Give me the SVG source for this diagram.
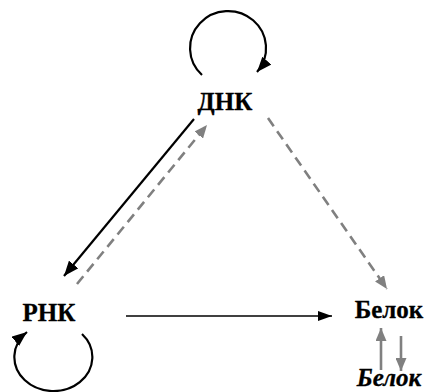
<svg xmlns="http://www.w3.org/2000/svg" width="426" height="392" viewBox="0 0 426 392">
  <defs>
    <marker id="headBlack" viewBox="0 0 15 12" refX="15" refY="6" markerWidth="15" markerHeight="12" markerUnits="userSpaceOnUse" orient="auto">
      <path d="M0,0 L15,6 L0,12 Z" fill="#000"/>
    </marker>
    <marker id="headThin" viewBox="0 0 14 10" refX="14" refY="5" markerWidth="14" markerHeight="10" markerUnits="userSpaceOnUse" orient="auto">
      <path d="M0,0 L14,5 L0,10 Z" fill="#000"/>
    </marker>
    <marker id="headGrey" viewBox="0 0 13 11" refX="13" refY="5.5" markerWidth="13" markerHeight="11" markerUnits="userSpaceOnUse" orient="auto">
      <path d="M0,0 L13,5.5 L0,11 Z" fill="#808080"/>
    </marker>
  </defs>
  <style>
    .label { font-family: 'Liberation Serif', serif; font-weight: 700; font-size: 25px; fill: #000; stroke: #000; stroke-width: 0.3; }
    .italic { font-style: italic; }
    .solid { fill: none; stroke: #000; stroke-width: 2.2; }
    .thin { fill: none; stroke: #000; stroke-width: 1.4; }
    .dash { fill: none; stroke: #808080; stroke-width: 2.6; stroke-dasharray: 10 6; }
    .grey { fill: none; stroke: #808080; stroke-width: 2.6; }
  </style>

  <g id="connectors">
    <!-- self loop over DNA -->
    <path class="solid" d="M202,75 A38,37 0 1 1 257,72" marker-end="url(#headBlack)"/>
    <!-- self loop under RNA -->
    <path class="solid" d="M82,334 A39,34 0 1 1 27,332" marker-end="url(#headBlack)"/>
    <!-- DNA to RNA -->
    <path class="solid" d="M194,119 L64,276" marker-end="url(#headBlack)"/>
    <!-- RNA back to DNA (dashed) -->
    <path class="dash" d="M77,284 L207,125" marker-end="url(#headGrey)"/>
    <!-- DNA to protein (dashed) -->
    <path class="dash" d="M268,118 L387,289" marker-end="url(#headGrey)"/>
    <!-- RNA to protein -->
    <path class="thin" d="M126,316 L332,316" marker-end="url(#headThin)"/>
    <!-- protein exchange -->
    <path class="grey" d="M381,370 L381,328" marker-end="url(#headGrey)"/>
    <path class="grey" d="M401,336 L401,371" marker-end="url(#headGrey)"/>
  </g>

  <g id="dna">
    <text class="label" x="225" y="110" text-anchor="middle">ДНК</text>
  </g>
  <g id="rna">
    <text class="label" x="49" y="321" text-anchor="middle">РНК</text>
  </g>
  <g id="protein">
    <text class="label" x="389" y="318" text-anchor="middle">Белок</text>
  </g>
  <g id="protein-form">
    <text class="label italic" x="389" y="386" text-anchor="middle">Белок</text>
  </g>
</svg>
